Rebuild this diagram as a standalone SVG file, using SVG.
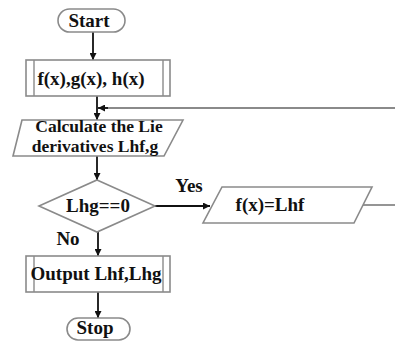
<svg xmlns="http://www.w3.org/2000/svg" width="395" height="345" viewBox="0 0 395 345">
<defs>
<marker id="ah" viewBox="0 0 10 10" refX="10" refY="5" markerWidth="7" markerHeight="7" markerUnits="userSpaceOnUse" orient="auto">
<path d="M0,0 L10,5 L0,10 Z" fill="#111"/>
</marker>
<style>
.sh{fill:#fff;stroke:#8a8a8a;stroke-width:1.6}
.in{stroke:#8a8a8a;stroke-width:1.4;fill:none}
.t{font-family:"Liberation Serif","Times New Roman",serif;font-weight:bold;font-size:19px;fill:#111;text-anchor:middle}
.s{font-size:17.5px}
.c{stroke:#111;stroke-width:1.8;fill:none}
.g{stroke:#8a8a8a;stroke-width:1.8;fill:none}
</style>
</defs>
<rect width="395" height="345" fill="#fff"/>
<g id="connectors">
<line class="c" x1="93" y1="32" x2="93" y2="60" marker-end="url(#ah)"/>
<line class="c" x1="97" y1="96" x2="97" y2="120" marker-end="url(#ah)"/>
<line class="g" x1="395" y1="108" x2="104" y2="108"/>
<line class="c" x1="108" y1="108" x2="98" y2="108" marker-end="url(#ah)"/>
<line class="c" x1="97" y1="156" x2="97" y2="180" marker-end="url(#ah)"/>
<line class="c" x1="155" y1="206" x2="210" y2="206" marker-end="url(#ah)"/>
<text class="t" x="189" y="192">Yes</text>
<line class="g" x1="363" y1="205" x2="395" y2="205"/>
<line class="c" x1="98" y1="232" x2="98" y2="256" marker-end="url(#ah)"/>
<text class="t" x="68" y="245">No</text>
<line class="c" x1="98" y1="292" x2="98" y2="318" marker-end="url(#ah)"/>
</g>
<g id="start">
<rect class="sh" x="58" y="9" width="67" height="23" rx="11.5"/>
<text class="t" x="89" y="27">Start</text>
</g>
<g id="input">
<rect class="sh" x="26" y="60" width="144" height="36"/>
<line class="in" x1="34" y1="60" x2="34" y2="96"/>
<line class="in" x1="163" y1="60" x2="163" y2="96"/>
<text class="t" x="91" y="85">f(x),g(x), h(x)</text>
</g>
<g id="calc">
<polygon class="sh" points="22,120 183,120 164,156 13,156"/>
<text class="t s" x="99" y="132">Calculate the Lie</text>
<text class="t s" x="95" y="152">derivatives Lhf,g</text>
</g>
<g id="decision">
<polygon class="sh" points="97,180 155,206 97,232 39,206"/>
<text class="t" x="98" y="212">Lhg==0</text>
</g>
<g id="assign">
<polygon class="sh" points="222,187 372,187 354,223 203,223"/>
<text class="t" x="270" y="211">f(x)=Lhf</text>
</g>
<g id="output">
<rect class="sh" x="26" y="256" width="144" height="36"/>
<line class="in" x1="34" y1="256" x2="34" y2="292"/>
<line class="in" x1="163" y1="256" x2="163" y2="292"/>
<text class="t" x="96" y="280">Output Lhf,Lhg</text>
</g>
<g id="stop">
<rect class="sh" x="67" y="318" width="63" height="22" rx="11"/>
<text class="t" x="95" y="334">Stop</text>
</g>
</svg>
